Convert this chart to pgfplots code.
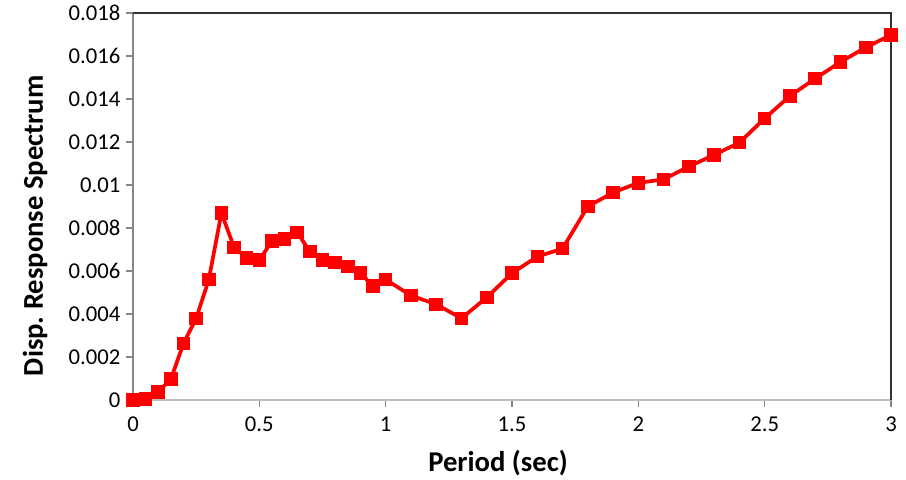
\documentclass[border=0pt]{standalone}
\usepackage{pgfplots}
\pgfplotsset{compat=1.18}
\usepackage{fontspec}
\setmainfont{Carlito}
\definecolor{axgray}{RGB}{134,134,134}
\definecolor{botgray}{RGB}{190,190,190}
\definecolor{bord}{RGB}{50,50,50}
\begin{document}
\begin{tikzpicture}
\begin{axis}[
  at={(0,0)}, anchor=south west,
  scale only axis,
  width=568.5pt, height=290.25pt,
  xmin=0, xmax=3, ymin=0, ymax=0.018,
  axis x line*=bottom, axis y line*=left,
  x axis line style={botgray, line width=1pt, -},
  y axis line style={axgray, line width=1pt, -},
  scaled y ticks=false, scaled x ticks=false,
  xtick={0,0.5,1,1.5,2,2.5,3},
  ytick={0,0.002,0.004,0.006,0.008,0.01,0.012,0.014,0.016,0.018},
  xticklabels={0,0.5,1,1.5,2,2.5,3},
  yticklabels={0,0.002,0.004,0.006,0.008,0.01,0.012,0.014,0.016,0.018},
  tick align=outside,
  major tick length=5pt,
  every tick/.style={axgray, line width=0.8pt},
  tick label style={font=\fontsize{17}{20}\selectfont, black},
  yticklabel style={xshift=-1pt},
  xticklabel style={yshift=-4pt},
  xlabel={\textbf{Period (sec)}},
  ylabel={\textbf{Disp.\ Response Spectrum}},
  label style={font=\fontsize{21.5}{24}\selectfont},
  xlabel style={at={([xshift=-10.5pt,yshift=-47.5pt]axis description cs:0.5,0)}, anchor=center},
  ylabel style={at={([xshift=-73.5pt,yshift=-14.5pt]axis description cs:0,0.5)}, anchor=center},
  clip=false,
]
\addplot[red, line width=2.8pt, mark=square*, mark size=4.7pt, mark options={solid, fill=red, line width=0pt}]
coordinates {
(0,0) (0.05,0.00005) (0.1,0.00038) (0.15,0.00098) (0.2,0.00263) (0.25,0.0038)
(0.3,0.0056) (0.35,0.0087) (0.4,0.0071) (0.45,0.0066) (0.5,0.0065)
(0.55,0.0074) (0.6,0.0075) (0.65,0.0078) (0.7,0.0069) (0.75,0.0065)
(0.8,0.0064) (0.85,0.0062) (0.9,0.0059) (0.95,0.0053) (1.0,0.0056)
(1.1,0.00486) (1.2,0.00445) (1.3,0.0038) (1.4,0.00477) (1.5,0.0059)
(1.6,0.00667) (1.7,0.00704) (1.8,0.0090) (1.9,0.00965) (2.0,0.0101)
(2.1,0.01026) (2.2,0.01086) (2.3,0.0114) (2.4,0.01197) (2.5,0.0131)
(2.6,0.01414) (2.7,0.01495) (2.8,0.01572) (2.9,0.0164) (3.0,0.01698)
};
\draw[bord, line width=0.9pt] (rel axis cs:0,1) -- (rel axis cs:1,1) -- (rel axis cs:1,0);
\end{axis}
\pgfresetboundingbox
\path (-99.75pt,-59.25pt) rectangle (579.75pt,300pt);
\end{tikzpicture}
\end{document}
